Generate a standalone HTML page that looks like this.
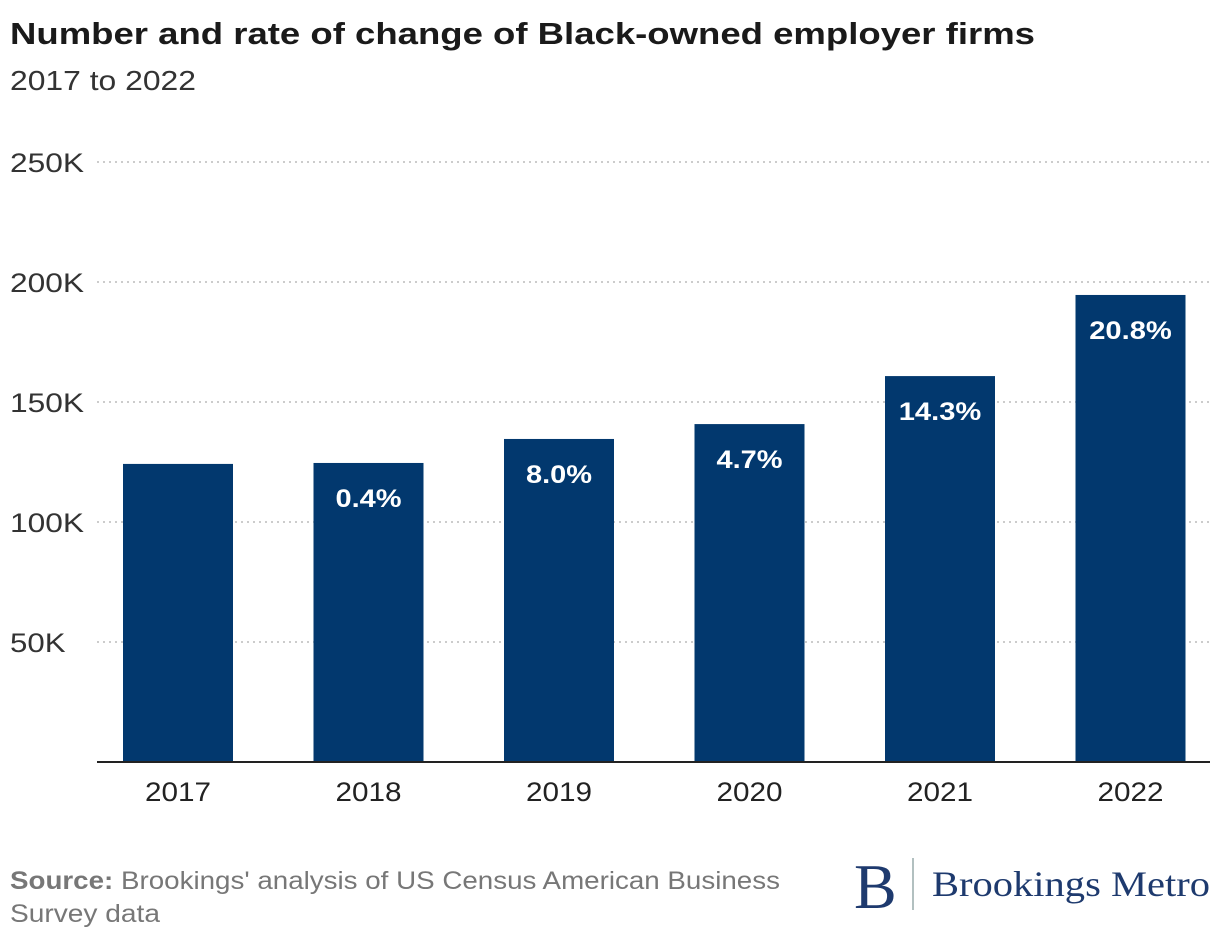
<!DOCTYPE html>
<html><head><meta charset="utf-8"><style>
body{margin:0;background:#fff;width:1220px;height:944px;overflow:hidden;font-family:"Liberation Sans",sans-serif}
svg text{font-family:"Liberation Sans",sans-serif}
</style></head><body>
<svg width="1220" height="944">
<text x="10" y="44" font-size="31" font-weight="bold" fill="#1a1a1a" textLength="1025" lengthAdjust="spacingAndGlyphs">Number and rate of change of Black-owned employer firms</text>
<text x="10" y="90" font-size="28" fill="#333" textLength="186" lengthAdjust="spacingAndGlyphs">2017 to 2022</text>
<g id="grid"></g><g id="bars"></g>
<line x1="97" x2="1210" y1="762" y2="762" stroke="#222" stroke-width="2"/>
<text x="10" y="889" font-size="25" fill="#777" textLength="770" lengthAdjust="spacingAndGlyphs"><tspan font-weight="bold">Source:</tspan> Brookings' analysis of US Census American Business</text>
<text x="10" y="922" font-size="25" fill="#777" textLength="150" lengthAdjust="spacingAndGlyphs">Survey data</text>
<g>
<text x="854" y="908" font-size="64" fill="#1e3a6e" style="font-family:'Liberation Serif',serif">B</text>
<line x1="913" x2="913" y1="858" y2="910" stroke="#9aa" stroke-width="1.5"/>
<text x="932" y="896" font-size="36" fill="#1e3a6e" textLength="278" lengthAdjust="spacingAndGlyphs" style="font-family:'Liberation Serif',serif">Brookings Metro</text>
</g>
</svg>
<script>
const categories=["2017","2018","2019","2020","2021","2022"];
const values=[124.2,124.6,134.6,140.8,160.8,194.6];
const changeLabels=["","0.4%","8.0%","4.7%","14.3%","20.8%"];
const yTicks=[50,100,150,200,250];
const ns="http://www.w3.org/2000/svg";
const y=v=>762-v*2.4;
const x=i=>178+i*190.5;
const g=document.getElementById('grid'),b=document.getElementById('bars');
function mk(t,a,p){const e=document.createElementNS(ns,t);for(const k in a)e.setAttribute(k,a[k]);p.appendChild(e);return e;}
yTicks.forEach(t=>{
const l=mk('line',{x1:97,x2:1210,y1:y(t),y2:y(t),stroke:'#bbb','stroke-width':1.5,'stroke-dasharray':'2 4'},g);


const s=String(t)+'K';
const tx=mk('text',{x:10,y:y(t)+10,'font-size':27,fill:'#333',textLength:s.length*18.5,lengthAdjust:'spacingAndGlyphs'},g);tx.textContent=s;


});
categories.forEach((c,i)=>{
const r=mk('rect',{x:x(i)-55,y:y(values[i]),width:110,height:762-y(values[i]),fill:'#02386e'},b);


const t=mk('text',{x:x(i),y:801,'font-size':27,fill:'#222','text-anchor':'middle',textLength:66,lengthAdjust:'spacingAndGlyphs'},b);t.textContent=c;


if(changeLabels[i]){const v=mk('text',{x:x(i),y:y(values[i])+44,'font-size':25,'font-weight':'bold',fill:'#fff','text-anchor':'middle',textLength:changeLabels[i].length*16.5,lengthAdjust:'spacingAndGlyphs'},b);v.textContent=changeLabels[i];

}
});
</script>
</body></html>
